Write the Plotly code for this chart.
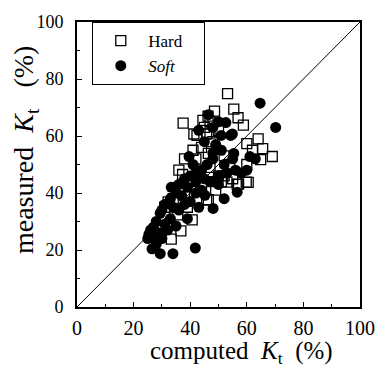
import plotly.graph_objects as go

hard_x = [37.5, 53.2, 55.4, 56.9, 58.8, 60.0, 65.6, 69.0, 64.9, 60.0, 48.6, 46.3, 44.5, 47.0, 45.0,
          41.3, 42.4, 45.8, 46.4, 59.8, 57.1, 53.0, 51.0, 46.4, 37.3, 40.7, 36.7, 33.3, 45.8, 32.2,
          35.6, 60.5, 56.6, 48.0, 50.0, 43.0, 38.0, 36.0, 34.0, 40.0, 52.0, 55.0, 49.0, 44.0, 42.0,
          48.0, 50.0, 47.0, 44.0, 38.0, 36.0, 39.0, 31.0, 29.0, 52.0, 54.0, 62.0, 64.0, 47.0, 41.0]
hard_y = [64.5, 74.9, 69.4, 66.4, 63.8, 57.3, 55.6, 52.8, 51.7, 50.0, 68.7, 67.0, 65.5, 65.0, 63.0,
          60.7, 60.2, 60.7, 53.9, 43.8, 43.1, 43.8, 44.0, 37.7, 46.5, 30.6, 26.7, 23.8, 37.5, 36.9,
          32.3, 43.7, 43.0, 44.0, 46.0, 48.0, 40.0, 42.0, 38.0, 44.0, 46.0, 45.0, 41.0, 42.0, 52.0,
          58.0, 62.0, 61.0, 56.0, 52.0, 48.0, 35.0, 35.0, 27.0, 53.0, 50.0, 55.0, 59.0, 49.0, 55.0]

soft_x = [64.7, 70.2, 52.6, 54.9, 50.9, 46.4, 61.1, 55.4, 39.6, 45.2, 56.6, 54.3, 41.8, 33.9, 29.4,
          26.5, 25.4, 29.4, 35.0, 48.1, 33.3, 49.0, 51.0, 48.0, 46.0, 44.0, 42.0, 40.0, 38.0, 36.0,
          35.0, 33.0, 31.0, 30.0, 28.0, 27.0, 26.0, 25.0, 27.0, 29.0, 31.0, 33.0, 36.0, 38.0, 40.0,
          42.0, 44.0, 47.0, 50.0, 53.0, 56.0, 58.0, 52.0, 48.0, 45.0, 43.0, 48.0, 50.0, 42.0, 37.0,
          34.0, 39.0, 41.0, 55.0, 60.0, 63.0, 45.0, 50.0, 52.0, 43.0, 39.0, 32.0, 28.0, 30.0]
soft_y = [71.5, 63.0, 64.7, 60.7, 60.2, 67.5, 52.8, 53.9, 52.8, 39.2, 40.3, 60.2, 20.7, 18.7, 18.7,
          20.4, 25.5, 32.9, 28.4, 34.6, 42.0, 57.0, 55.0, 52.0, 50.0, 48.0, 47.0, 46.0, 45.0, 43.0,
          40.0, 38.0, 36.0, 34.0, 30.0, 28.0, 27.0, 24.0, 25.0, 26.0, 29.0, 31.0, 34.0, 36.0, 37.0,
          40.0, 41.0, 44.0, 46.0, 47.0, 48.0, 47.0, 50.0, 54.0, 58.0, 62.0, 63.0, 65.0, 44.0, 39.0,
          35.0, 42.0, 50.0, 52.0, 48.0, 52.0, 45.0, 43.0, 38.0, 35.0, 31.0, 27.0, 22.0, 24.0]

diag = [0, 100]
tick_vals = [0, 20, 40, 60, 80, 100]
tick_text = ["0", "20", "40", "60", "80", "100"]

FONT = "Liberation Serif"

fig = go.Figure()
fig.add_trace(go.Scatter(x=diag, y=diag, mode="lines", line=dict(color="black", width=1),
                         showlegend=False, hoverinfo="skip"))
fig.add_trace(go.Scatter(x=hard_x, y=hard_y, mode="markers",
                         name="<span style='font-family:Liberation Serif'>Hard</span>&nbsp;&nbsp;&nbsp;&nbsp;",
                         marker=dict(symbol="square-open", size=10, color="black",
                                     line=dict(width=1.3, color="black"))))
fig.add_trace(go.Scatter(x=soft_x, y=soft_y, mode="markers",
                         name="<span style='font-family:Liberation Serif'><i>Soft</i></span>",
                         marker=dict(symbol="circle", size=11, color="black",
                                     line=dict(width=0))))

axis_common = dict(
    range=[0, 100], tickvals=tick_vals, ticktext=tick_text,
    ticks="inside", ticklen=5, tickcolor="black",
    showline=True, linecolor="black", linewidth=2, mirror=True, showgrid=False, zeroline=False,
    minor=dict(ticks="inside", ticklen=3, dtick=10, tickcolor="black"),
)

fig.update_xaxes(**axis_common, tickfont=dict(family=FONT, size=20, color="black"),
                 ticklabelstandoff=2)
fig.update_yaxes(**axis_common, tickfont=dict(family=FONT, size=18, color="black"),
                 ticklabelstandoff=8)

fig.add_annotation(text="computed&nbsp;&nbsp;<i>K</i><sub>t</sub>&nbsp;&nbsp;(%)",
                   xref="paper", yref="paper", x=0.58, y=-0.16, xanchor="center", yanchor="middle",
                   showarrow=False, font=dict(family=FONT, size=25, color="black"))
fig.add_annotation(text="measured&nbsp;&nbsp;<i>K</i><sub>t</sub>&nbsp;&nbsp;&nbsp;(%)",
                   xref="paper", yref="paper", x=-0.18, y=0.551, xanchor="center", yanchor="middle",
                   textangle=-90, showarrow=False, font=dict(family=FONT, size=28, color="black"))

fig.update_layout(
    width=387, height=380,
    margin=dict(l=77, r=15, t=13, b=73),
    font=dict(family=FONT, color="black"),
    plot_bgcolor="white", paper_bgcolor="white",
    legend=dict(x=0.054, y=1.0, xanchor="left", yanchor="top",
                bordercolor="black", borderwidth=1, bgcolor="white",
                font=dict(family=FONT, size=17, color="black"),
                itemwidth=45),
)

fig.write_html("out.html")
